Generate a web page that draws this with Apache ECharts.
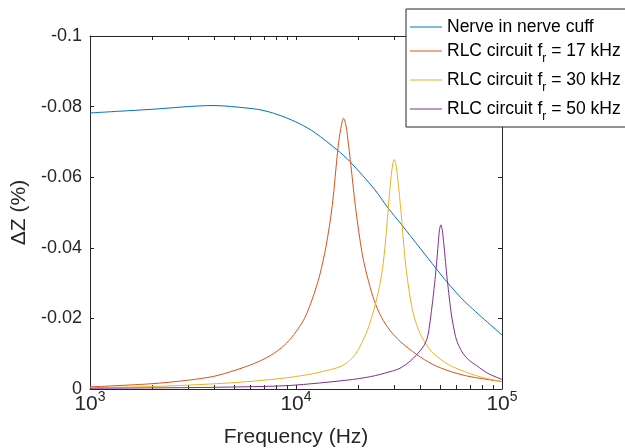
<!DOCTYPE html>
<html>
<head>
<meta charset="utf-8">
<script src="https://cdn.jsdelivr.net/npm/echarts@6/dist/echarts.min.js"></script>
<style>
  html, body { margin: 0; background: #fff; }
  #chart { width: 625px; height: 448px; }
</style>
</head>
<body>
<div id="chart"></div>
<script>
// values: [frequency Hz, dZ %]
const nerveCuff = [
  [1000, -0.0782], [1400, -0.0787], [1955, -0.0792], [3955, -0.0803], [5980, -0.0795],
  [7070, -0.0788], [8550, -0.0773], [10460, -0.0751], [12370, -0.0726], [15870, -0.0677],
  [18290, -0.0644], [24180, -0.0564], [28050, -0.0512], [32600, -0.0465], [40000, -0.0399],
  [47800, -0.0342], [53900, -0.0304], [66100, -0.0247], [100000, -0.0153]
];
const rlc17 = [
  [1000, -0.0006], [2000, -0.0015], [3000, -0.0025], [4000, -0.0036], [5000, -0.0052],
  [6000, -0.0068], [7000, -0.0085], [8000, -0.0105], [9000, -0.0130], [10000, -0.0162],
  [11000, -0.0200], [12000, -0.0255], [13000, -0.0320], [14000, -0.0405], [15000, -0.0520],
  [16000, -0.0685], [16500, -0.0738], [17000, -0.0767], [17500, -0.0745], [18000, -0.0690],
  [18500, -0.0630], [19500, -0.0510], [21000, -0.0380], [22500, -0.0305], [24000, -0.0250],
  [26000, -0.0203], [28600, -0.0166], [32000, -0.0135], [38500, -0.0098], [46000, -0.0070],
  [56000, -0.0050], [70000, -0.0035], [100000, -0.0021]
];
const rlc30 = [
  [1000, -0.0004], [2000, -0.0007], [3000, -0.0011], [5000, -0.0018], [7000, -0.0025],
  [9350, -0.0033], [12000, -0.0043], [14000, -0.0052], [16350, -0.0063], [18000, -0.0078],
  [19500, -0.0100], [21200, -0.0139], [22500, -0.0175], [23500, -0.0210], [24400, -0.0245],
  [25500, -0.0295], [26500, -0.0355], [27500, -0.0450], [28300, -0.0540], [29000, -0.0605],
  [29500, -0.0638], [30000, -0.0650], [30500, -0.0638], [31200, -0.0595], [32000, -0.0530],
  [32600, -0.0480], [33500, -0.0395], [34500, -0.0325], [36300, -0.0240], [38000, -0.0192],
  [40000, -0.0158], [43000, -0.0125], [46400, -0.0101], [55000, -0.0069], [67400, -0.0047],
  [80000, -0.0033], [100000, -0.0021]
];
const rlc50 = [
  [1000, -0.0002], [3060, -0.0004], [5350, -0.0006], [9350, -0.0010], [17600, -0.0025],
  [23000, -0.0035], [28600, -0.0049], [32000, -0.0059], [36000, -0.0080], [40000, -0.0108],
  [42000, -0.0125], [43400, -0.0145], [44300, -0.0172], [45200, -0.0210], [46300, -0.0260],
  [47300, -0.0310], [48200, -0.0360], [49000, -0.0410], [49700, -0.0450], [50500, -0.0465],
  [51300, -0.0450], [52200, -0.0410], [53000, -0.0370], [54000, -0.0320], [55200, -0.0270],
  [56500, -0.0220], [58000, -0.0180], [60200, -0.0138], [64000, -0.0105], [69000, -0.0082],
  [75400, -0.0066], [85000, -0.0045], [100000, -0.0027]
];
const seriesNames = [
  'Nerve in nerve cuff',
  'RLC circuit f_r = 17 kHz',
  'RLC circuit f_r = 30 kHz',
  'RLC circuit f_r = 50 kHz'
];
// MATLAB style x ticks: decades plus 2..9 x 10^n
const xTickValues = [1000, 2000, 3000, 4000, 5000, 6000, 7000, 8000, 9000,
  10000, 20000, 30000, 40000, 50000, 60000, 70000, 80000, 90000, 100000];

const colors = ['#0072BD', '#D95319', '#EDB120', '#7E2F8E'];
const axisColor = '#262626';
const font = 'Liberation Sans';
const tickLen = 4;

const chart = echarts.init(document.getElementById('chart'), null, { renderer: 'canvas' });

function lineSeries(name, data, color) {
  return {
    type: 'line',
    name,
    data,
    symbol: 'none',
    smooth: 0.3,
    lineStyle: { width: 1, color },
    itemStyle: { color }
  };
}

// inner ticks on the bottom and top x axes, placed through the log scale
const xTickSeries = {
  type: 'custom',
  silent: true,
  clip: false,
  data: xTickValues,
  encode: { x: 0 },
  renderItem: (params, api) => {
    const bottom = api.coord([api.value(0), 0]);
    const top = api.coord([api.value(0), -0.1]);
    const x = Math.round(bottom[0]) + 0.5;
    const style = { stroke: axisColor, lineWidth: 1 };
    return {
      type: 'group',
      children: [
        { type: 'line', shape: { x1: x, y1: bottom[1], x2: x, y2: bottom[1] - tickLen }, style },
        { type: 'line', shape: { x1: x, y1: top[1], x2: x, y2: top[1] + tickLen }, style }
      ]
    };
  }
};

const xBase = {
  type: 'log',
  logBase: 10,
  min: 1000,
  max: 100000,
  axisLine: { onZero: false, lineStyle: { color: axisColor, width: 1 } },
  axisTick: { show: false },
  splitLine: { show: false }
};
const yBase = {
  type: 'value',
  inverse: true,
  min: -0.1,
  max: 0,
  interval: 0.02,
  axisLine: { show: true, onZero: false, lineStyle: { color: axisColor, width: 1 } },
  axisTick: { show: true, inside: true, length: tickLen, lineStyle: { color: axisColor } },
  splitLine: { show: false }
};

const option = {
  animation: false,
  backgroundColor: '#fff',
  grid: { left: 90, right: 123, top: 36, bottom: 59, outerBoundsMode: 'none' },
  legend: {
    data: seriesNames,
    z: 20,
    orient: 'vertical',
    left: 406,
    top: 9,
    align: 'left',
    itemGap: 6,
    itemWidth: 32,
    itemHeight: 1,
    icon: 'rect',
    padding: [9, 40, 4, 4],
    backgroundColor: '#fff',
    borderColor: axisColor,
    borderWidth: 1,
    borderRadius: 0,
    formatter: name => name.replace('f_r', 'f{s|r}'),
    textStyle: {
      fontFamily: font,
      fontSize: 17.5,
      color: '#000',
      rich: {
        s: { fontFamily: font, fontSize: 12, color: '#000', padding: [16, 0, 0, 0] }
      }
    }
  },
  xAxis: [
    Object.assign({}, xBase, {
      position: 'bottom',
      name: 'Frequency (Hz)',
      nameLocation: 'middle',
      nameGap: 38,
      nameTextStyle: { fontFamily: font, fontSize: 21, color: axisColor },
      axisLabel: {
        margin: 1,
        color: axisColor,
        formatter: v => '{b|10}{e|' + Math.round(Math.log10(v)) + '}',
        rich: {
          b: { fontFamily: font, fontSize: 21, color: axisColor },
          e: { fontFamily: font, fontSize: 14, color: axisColor, padding: [0, 0, 14, 0] }
        }
      }
    }),
    Object.assign({}, xBase, {
      position: 'top',
      axisLabel: { show: false }
    })
  ],
  yAxis: [
    Object.assign({}, yBase, {
      position: 'left',
      name: 'ΔZ (%)',
      nameLocation: 'middle',
      nameGap: 57,
      nameTextStyle: { fontFamily: font, fontSize: 21, color: axisColor },
      axisLabel: { fontFamily: font, fontSize: 18, color: axisColor, margin: 8 }
    }),
    Object.assign({}, yBase, {
      position: 'right',
      axisLabel: { show: false }
    })
  ],
  series: [
    lineSeries(seriesNames[0], nerveCuff, colors[0]),
    lineSeries(seriesNames[1], rlc17, colors[1]),
    lineSeries(seriesNames[2], rlc30, colors[2]),
    lineSeries(seriesNames[3], rlc50, colors[3]),
    xTickSeries
  ]
};

chart.setOption(option);
</script>
</body>
</html>
